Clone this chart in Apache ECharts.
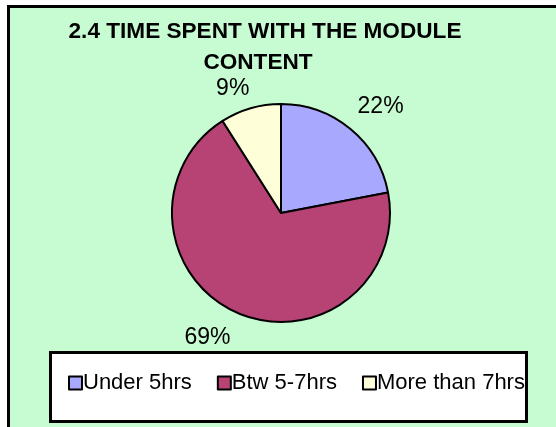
<!DOCTYPE html>
<html>
<head>
<meta charset="utf-8">
<script src="https://cdn.jsdelivr.net/npm/echarts@6/dist/echarts.min.js"></script>
<style>
  html, body { margin: 0; padding: 0; background: #ffffff; }
  #chart { width: 556px; height: 427px; }
</style>
</head>
<body>
<div id="chart"></div>
<script>
// data
const categories = ['Under 5hrs', 'Btw 5-7hrs', 'More than 7hrs'];
const shares = [22, 69, 9];
const sliceColors = ['#A8A8FE', '#B64373', '#FEFED8'];
// small nudges so labels sit where the original put them
const labelNudge = [[-3, -16], [1, 17], [6, -12]];

let myChart = echarts.init(document.getElementById('chart'));
let option = {
  backgroundColor: '#ffffff',
  title: [
    {
      text: '2.4 TIME SPENT WITH THE MODULE',
      left: 265, top: 20, padding: 0,
      textAlign: 'center',
      textStyle: { fontFamily: 'Liberation Sans', fontSize: 22.6, fontWeight: 'bold', color: '#000', lineHeight: 23 }
    },
    {
      text: 'CONTENT',
      left: 258, top: 51, padding: 0,
      textAlign: 'center',
      textStyle: { fontFamily: 'Liberation Sans', fontSize: 22.6, fontWeight: 'bold', color: '#000', lineHeight: 23 }
    }
  ],
  graphic: [
    {
      type: 'rect', z: -10,
      shape: { x: 8.5, y: 6.5, width: 600, height: 500 },
      style: { fill: '#C7FBD2', stroke: '#000', lineWidth: 3 }
    },
    {
      type: 'rect', z: -5,
      shape: { x: 50.5, y: 352.5, width: 476, height: 69 },
      style: { fill: '#ffffff', stroke: '#000', lineWidth: 3 }
    }
  ],
  legend: {
    data: categories,
    left: 68, top: 372,
    padding: 0,
    itemGap: 25,
    itemWidth: 13, itemHeight: 13,
    icon: 'rect',
    itemStyle: { borderColor: '#000', borderWidth: 2 },
    textStyle: { fontFamily: 'Liberation Sans', fontSize: 22, color: '#000', padding: [0, 0, 0, -4] }
  },
  series: [
    {
      type: 'pie',
      center: [281, 213],
      radius: 109,
      startAngle: 90,
      clockwise: true,
      animation: false,
      silent: true,
      itemStyle: { borderColor: '#000', borderWidth: 2 },
      label: {
        show: true,
        position: 'outside',
        formatter: '{d}%',
        fontFamily: 'Liberation Sans',
        fontSize: 23,
        color: '#000',
        distanceToLabelLine: 5
      },
      labelLine: { show: false, length: 8, length2: 0 },
      labelLayout: function (params) {
        const n = labelNudge[params.dataIndex];
        return { dx: n[0], dy: n[1] };
      },
      data: categories.map((name, i) => ({
        name: name,
        value: shares[i],
        itemStyle: { color: sliceColors[i] }
      }))
    }
  ]
};
option && myChart.setOption(option);
</script>
</body>
</html>
